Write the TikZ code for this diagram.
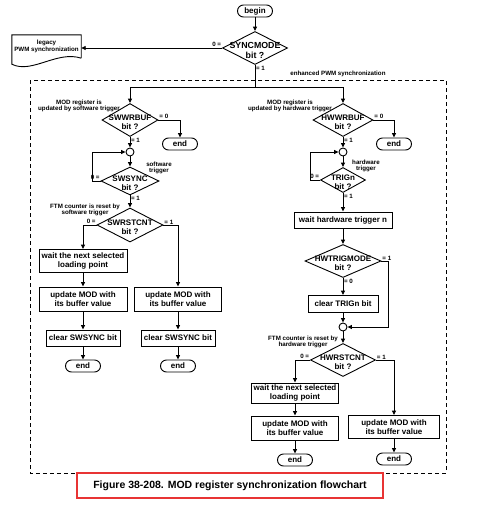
\documentclass[tikz,border=0pt]{standalone}
\usepackage{fontspec}
\setmainfont{Liberation Sans}
\usetikzlibrary{shapes.geometric,arrows.meta,calc}

\definecolor{capred}{RGB}{232,52,52}

\tikzset{
  line/.style={line width=0.9pt},
  flow/.style={line width=0.9pt, -{Triangle[length=4.5pt,width=4pt]}},
  term/.style={draw, line width=0.9pt, rounded corners=6pt, minimum width=35pt, minimum height=12pt, inner sep=0pt, font=\bfseries\fontsize{8}{8.5}\selectfont},
  decision/.style={draw, diamond, line width=0.9pt, inner sep=0pt},
  dtext/.style={align=center, inner sep=0pt, yshift=-2.5pt, font=\bfseries\fontsize{8}{9}\selectfont},
  block/.style={draw, line width=0.9pt, align=center, inner sep=1pt, minimum height=16pt, font=\bfseries\fontsize{8}{8.5}\selectfont},
  joint/.style={draw, circle, line width=0.9pt, minimum size=8pt, inner sep=0pt},
  note/.style={align=center, inner sep=0.5pt, font=\bfseries\fontsize{6.2}{6.6}\selectfont},
  cond/.style={inner sep=0.8pt, font=\bfseries\fontsize{6.2}{6.6}\selectfont},
}

\begin{document}
\begin{tikzpicture}[x=1pt, y=-1pt]
\useasboundingbox (0,0) rectangle (481,507);

% Draw begin and SYNCMODE test
\node[term] (begin) at (255,11) {begin};
\node[decision, minimum width=65pt, minimum height=33pt, label={[dtext, font=\bfseries\fontsize{8.8}{9.5}\selectfont]center:SYNCMODE\\bit ?}] (syncmode) at (255,48) {};
\node[cond, anchor=south east] (sync0) at (syncmode.west) {0 =};
\node[cond, anchor=north west] (sync1) at (syncmode.south) {= 1};

% Draw legacy document shape
\node[note, minimum width=69pt, minimum height=23pt] (legacy) at (46.5,46.5) {legacy\\PWM synchronization};
\draw[line] (legacy.south east) -- (legacy.north east) -- (legacy.north west) -- ($(legacy.south west)+(0,6)$)
  .. controls ($(legacy.south west)+(20,16)$) and ($(legacy.south east)+(-24,-8)$) .. (legacy.south east);

% Draw enhanced PWM synchronization frame
\draw[line width=0.7pt, dash pattern=on 4pt off 3pt] (30,80) rectangle (446,473);
\node[note] (enhanced) at (338,74) {enhanced PWM synchronization};
\coordinate (split) at (255,87);

% Draw software trigger column
\node[decision, minimum width=56pt, minimum height=33pt, label={[dtext]center:SWWRBUF\\bit ?}] (swwrbuf) at (130,120) {};
\node[term] (end1) at (180,144) {end};
\node[joint] (j1) at (130,152) {};
\node[decision, minimum width=58pt, minimum height=28pt, label={[dtext]center:SWSYNC\\bit ?}] (swsync) at (130,181) {};
\node[decision, minimum width=66pt, minimum height=34pt, label={[dtext]center:SWRSTCNT\\bit ?}] (swrstcnt) at (130,225) {};
\node[block, minimum width=88pt, minimum height=23pt] (wait1) at (83,261) {wait the next selected\\loading point};
\node[block, minimum width=88pt, minimum height=24pt] (upd1) at (83,299) {update MOD with\\its buffer value};
\node[block, minimum width=87pt, minimum height=24pt] (upd2) at (178,299) {update MOD with\\its buffer value};
\node[block, minimum width=74pt] (clr1) at (83,338) {clear SWSYNC bit};
\node[block, minimum width=74pt] (clr2) at (178,338) {clear SWSYNC bit};
\node[term] (end2) at (83,366) {end};
\node[term] (end3) at (178,366) {end};

\node[note] (swnote1) at (79,106) {MOD register is\\updated by software trigger};
\node[note] (swnote2) at (159,168) {software\\trigger};
\node[note] (swnote3) at (85,210) {FTM counter is reset by\\software trigger};
\node[cond, anchor=south west] (swwrbuf0) at (swwrbuf.east) {= 0};
\node[cond, anchor=north west] (swwrbuf1) at (swwrbuf.south) {= 1};
\node[cond, anchor=south east] (swsync0) at (swsync.west) {0 =};
\node[cond, anchor=north west] (swsync1) at (swsync.south) {= 1};
\node[cond, anchor=south east] (swrstcnt0) at (swrstcnt.west) {0 =};
\node[cond, anchor=south west] (swrstcnt1) at (swrstcnt.east) {= 1};

% Draw hardware trigger column
\node[decision, minimum width=60pt, minimum height=33pt, label={[dtext]center:HWWRBUF\\bit ?}] (hwwrbuf) at (343,120) {};
\node[term] (end4) at (394,144) {end};
\node[joint] (j2) at (343,152) {};
\node[decision, minimum width=45pt, minimum height=25pt, label={[dtext]center:TRIGn\\bit ?}] (trign) at (343,180) {};
\node[block, minimum width=98pt] (wait2) at (343,220) {wait hardware trigger n};
\node[decision, minimum width=76pt, minimum height=33pt, label={[dtext]center:HWTRIGMODE\\bit ?}] (hwtrigmode) at (343,261) {};
\node[block, minimum width=70pt, minimum height=17pt] (clrtrig) at (343,304) {clear TRIGn bit};
\node[joint] (j3) at (343,327) {};
\node[decision, minimum width=65pt, minimum height=33pt, label={[dtext]center:HWRSTCNT\\bit ?}] (hwrstcnt) at (343,360) {};
\node[block, minimum width=87pt, minimum height=20pt] (wait3) at (295,393) {wait the next selected\\loading point};
\node[block, minimum width=87pt, minimum height=24pt] (upd3) at (295,428) {update MOD with\\its buffer value};
\node[block, minimum width=91pt, minimum height=23pt] (upd4) at (394,427) {update MOD with\\its buffer value};
\node[term] (end5) at (295,460) {end};
\node[term] (end6) at (394,459) {end};

\node[note] (hwnote1) at (290,106) {MOD register is\\updated by hardware trigger};
\node[note] (hwnote2) at (366,166) {hardware\\trigger};
\node[note] (hwnote3) at (303,342) {FTM counter is reset by\\hardware trigger};
\node[cond, anchor=south west] (hwwrbuf0) at (hwwrbuf.east) {= 0};
\node[cond, anchor=north west] (hwwrbuf1) at (hwwrbuf.south) {= 1};
\node[cond, anchor=south east] (trign0) at (trign.west) {0 =};
\node[cond, anchor=north west] (trign1) at (trign.south) {= 1};
\node[cond, anchor=south west] (hwtrig1) at (hwtrigmode.east) {= 1};
\node[cond, anchor=north west] (hwtrig0) at (hwtrigmode.south) {= 0};
\node[cond, anchor=south east] (hwrstcnt0) at (hwrstcnt.west) {0 =};
\node[cond, anchor=south west] (hwrstcnt1) at (hwrstcnt.east) {= 1};

% Caption
\node[draw=capred, line width=2pt, minimum width=306pt, minimum height=25pt, font=\bfseries\fontsize{10.5}{12}\selectfont] (caption) at (230,485.5) {Figure 38-208. MOD register synchronization flowchart};

% Connectors
\draw[flow] (begin) -- (syncmode);
\draw[flow] (syncmode.west) -- (syncmode.west -| legacy.east);
\draw[line] (syncmode.south) -- (split);
\draw[flow] (split) -| (swwrbuf.north);
\draw[flow] (split) -| (hwwrbuf.north);

\draw[flow] (swwrbuf.east) -| (end1.north);
\draw[flow] (swwrbuf.south) -- (j1.north);
\draw[flow] (j1.south) -- (swsync.north);
\draw[flow] (swsync.west) -- ++(-8,0) |- (j1.west);
\draw[flow] (swsync.south) -- (swrstcnt.north);
\draw[flow] (swrstcnt.west) -| (wait1.north);
\draw[flow] (swrstcnt.east) -| (upd2.north);
\draw[flow] (wait1) -- (upd1);
\draw[flow] (upd1) -- (clr1);
\draw[flow] (clr1) -- (end2);
\draw[flow] (upd2) -- (clr2);
\draw[flow] (clr2) -- (end3);

\draw[flow] (hwwrbuf.east) -| (end4.north);
\draw[flow] (hwwrbuf.south) -- (j2.north);
\draw[flow] (j2.south) -- (trign.north);
\draw[flow] (trign.west) -- ++(-10,0) |- (j2.west);
\draw[flow] (trign.south) -- (wait2.north);
\draw[flow] (wait2) -- (hwtrigmode);
\draw[flow] (hwtrigmode) -- (clrtrig);
\draw[flow] (clrtrig) -- (j3);
\draw[flow] (hwtrigmode.east) -- ++(7,0) |- (j3.east);
\draw[flow] (j3) -- (hwrstcnt);
\draw[flow] (hwrstcnt.west) -| (wait3.north);
\draw[flow] (hwrstcnt.east) -| (upd4.north);
\draw[flow] (wait3) -- (upd3);
\draw[flow] (upd3) -- (end5);
\draw[flow] (upd4) -- (end6);

\end{tikzpicture}
\end{document}
